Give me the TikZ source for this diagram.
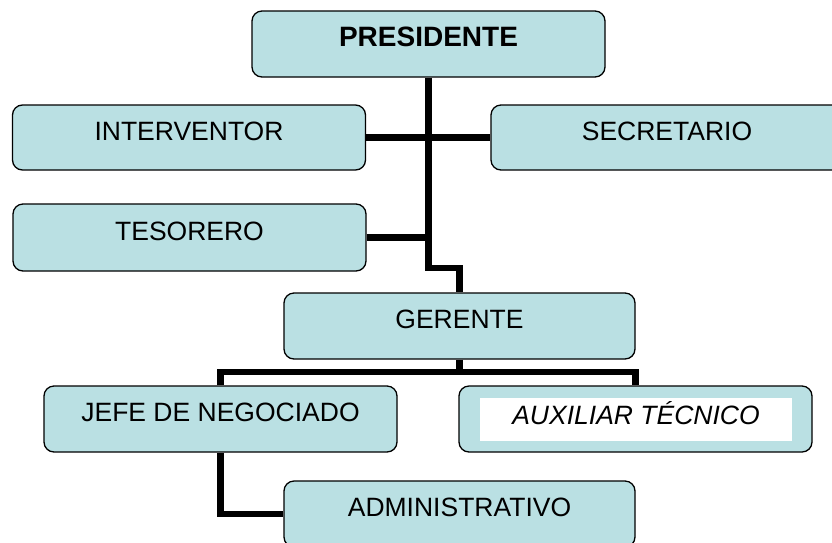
\documentclass[tikz,border=0pt]{standalone}
\usepackage{fontspec}
\setmainfont{Liberation Sans}
\definecolor{boxfill}{RGB}{186,224,227}
\begin{document}
\begin{tikzpicture}[x=1pt,y=-1pt,
  box/.style={draw=black, line width=1.3pt, fill=boxfill, rounded corners=10pt,
    inner sep=0pt, text height=19pt, text depth=14pt,
    minimum width=353pt, minimum height=66pt},
  reg/.style={font=\fontsize{26.5}{30}\selectfont},
  conn/.style={line width=6.5pt, draw=black, line join=miter}]
\useasboundingbox (0,0) rectangle (832,542);
\clip (0,0) rectangle (832,542);
% boxes
\node[box, font=\bfseries\fontsize{28}{30}\selectfont] (pres) at (428.5,44) {PRESIDENTE};
\node[box, reg, minimum height=65pt] (interv) at (189,137.5) {INTERVENTOR};
\node[box, reg, minimum height=65pt, minimum width=352pt] (secr) at (667,137.5) {SECRETARIO};
\node[box, reg, minimum height=67pt] (tes) at (189.5,237.5) {TESORERO};
\node[box, reg, minimum width=351pt] (ger) at (459.5,326) {GERENTE};
\node[box, reg] (jefe) at (220.5,419) {JEFE DE NEGOCIADO};
\node[box] (aux) at (635.5,419) {};
\node[fill=white, inner sep=0pt, minimum width=312pt, minimum height=43pt,
  text height=19pt, text depth=10pt, font=\itshape\fontsize{26.5}{30}\selectfont]
  (auxt) at (636,419.5) {AUXILIAR TÉCNICO};
\node[box, reg, minimum width=351pt] (admin) at (459.5,514) {ADMINISTRATIVO};
% connectors
\coordinate (j1) at (428.5,268);
\coordinate (j2) at (459.5,372);
\draw[conn] (pres.south) -- (j1) -| (ger.north);
\draw[conn] (interv.east) -- (secr.west);
\draw[conn] (tes.east) -- (tes.east -| pres.south);
\draw[conn] (ger.south) -- (j2);
\draw[conn] (jefe.north) -- (jefe.north |- j2) -- (aux.north |- j2) -- (aux.north);
\draw[conn] (jefe.south) |- (admin.west);
\end{tikzpicture}
\end{document}
